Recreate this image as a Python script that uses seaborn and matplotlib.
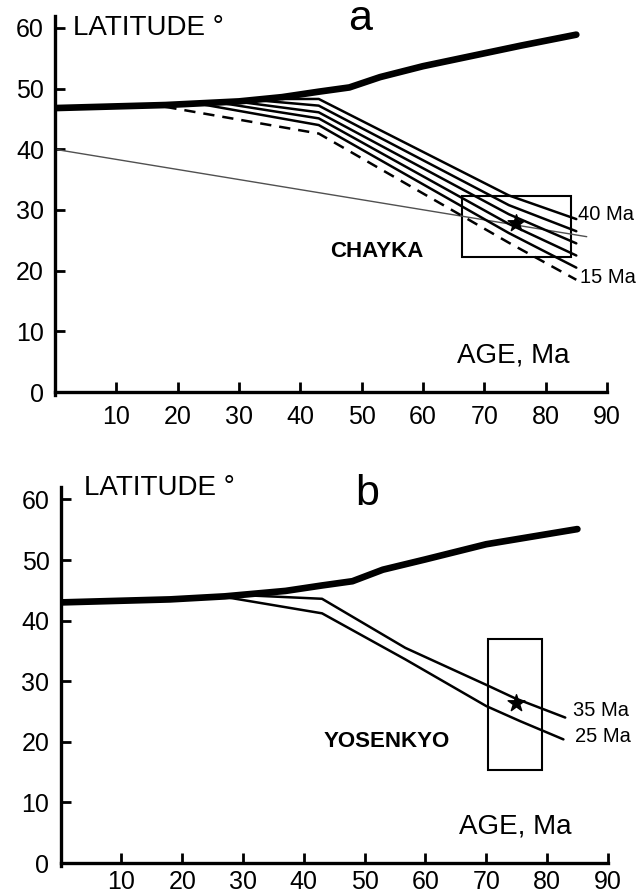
import matplotlib.pyplot as plt
import seaborn as sns
import pandas as pd
from matplotlib.patches import Rectangle

# ---- panel a (CHAYKA) ----
a_thick_age = [0, 18, 30, 37, 43, 48, 53, 60, 68, 76, 85]
a_thick_lat = [46.8, 47.3, 47.9, 48.6, 49.5, 50.2, 51.9, 53.7, 55.4, 57.1, 58.9]

a_ages = [15, 20, 25, 30, 35, 40]
a_branch_age = [18, 24.5, 28, 31, 34, 37]
a_knee_lat = [42.6, 44.0, 45.1, 46.1, 47.2, 48.3]
a_mid_lat = [24.6, 26.2, 27.7, 29.3, 30.8, 32.4]
a_end_lat = [18.5, 20.5, 22.5, 24.5, 26.5, 28.5]
a_knee_age, a_mid_age, a_end_age = 43, 74, 85

a_site_age = [0, 86.7]
a_site_lat = [40.0, 25.6]
a_star = (75.2, 27.8)
a_box = [66.4, 84.1, 22.2, 32.3]   # age min, age max, lat min, lat max

# ---- panel b (YOSENKYO) ----
b_thick_age = [0, 18, 27, 37, 43, 48, 53, 60, 70, 85]
b_thick_lat = [43.0, 43.5, 44.0, 44.9, 45.8, 46.5, 48.4, 50.1, 52.6, 55.1]

b_35_age = [30, 43, 56.7, 70, 74.7, 83]
b_35_lat = [44.2, 43.6, 35.5, 29.4, 27.2, 24.0]
b_25_age = [27, 43, 56.7, 70, 75.6, 82.7]
b_25_lat = [43.9, 41.2, 33.6, 25.9, 23.4, 20.4]
b_star = (74.9, 26.4)
b_box = [70.3, 79.1, 15.4, 36.9]

xticks = [10, 20, 30, 40, 50, 60, 70, 80, 90]
yticks = [0, 10, 20, 30, 40, 50, 60]

sns.set_theme(style="ticks")
plt.rcParams['font.family'] = ['Liberation Sans', 'DejaVu Sans']
plt.rcParams['text.color'] = 'black'
plt.rcParams['xtick.color'] = 'black'
plt.rcParams['ytick.color'] = 'black'

fig = plt.figure(figsize=(6.41, 8.96), dpi=100)
ax_a = fig.add_axes([55 / 641, 504 / 896, 92 * 6.133 / 641, 63 * 6.067 / 896])
ax_b = fig.add_axes([60.6 / 641, 33 / 896, 92 * 6.08 / 641, 63 * 6.06 / 896])


def setup(ax, xpad):
    ax.set_xlim(0, 92)
    ax.set_ylim(0, 63)
    ax.patch.set_alpha(0)
    for s in ['top', 'right']:
        ax.spines[s].set_visible(False)
    for s in ['left', 'bottom']:
        ax.spines[s].set_linewidth(2.4)
        ax.spines[s].set_color('black')
    ax.spines['left'].set_bounds(-0.5, 62)
    ax.spines['bottom'].set_bounds(0, 90)
    ax.set_xticks(xticks)
    ax.set_yticks(yticks)
    ax.tick_params(direction='in', length=7, width=2, color='black',
                   labelsize=18, labelcolor='black')
    ax.tick_params(axis='x', pad=xpad)
    ax.tick_params(axis='y', pad=8)
    ax.set_xlabel('')
    ax.set_ylabel('')
    ax.text(65.5, 6.0, 'AGE, Ma', fontsize=20, va='center')


def line(ax, x, y, lw=1.8, color='black', **kw):
    sns.lineplot(x=x, y=y, ax=ax, color=color, lw=lw, sort=False,
                 estimator=None, legend=False, **kw)


# panel a
line(ax_a, a_thick_age, a_thick_lat, lw=4.8, solid_capstyle='round')
line(ax_a, a_site_age, a_site_lat, lw=1.0, color='#505050')
thick_a = pd.Series(a_thick_lat, index=a_thick_age)
for i, age in enumerate(a_ages):
    bx = a_branch_age[i]
    by = thick_a.reindex(sorted(set(a_thick_age) | {bx})).interpolate('index')[bx]
    xs = [bx, a_knee_age, a_mid_age, a_end_age]
    ys = [by - 0.3, a_knee_lat[i], a_mid_lat[i], a_end_lat[i]]
    if age == 15:
        line(ax_a, xs, ys, linestyle=(0, (4.5, 3.2)))
    else:
        line(ax_a, xs, ys)
ax_a.add_patch(Rectangle((a_box[0], a_box[2]), a_box[1] - a_box[0], a_box[3] - a_box[2],
                         fill=False, lw=1.5, ec='black'))
sns.scatterplot(x=[a_star[0]], y=[a_star[1]], ax=ax_a, marker='*', s=160,
                color='black', edgecolor='black', zorder=5)
setup(ax_a, 9)
ax_a.text(2.9, 60, 'LATITUDE °', fontsize=20, va='center')
ax_a.text(49.7, 59.6, 'a', fontsize=31, ha='center', va='baseline')
ax_a.text(44.8, 23.1, 'CHAYKA', fontsize=16, fontweight='bold', va='center')
ax_a.text(85.3, 29.3, '40 Ma', fontsize=14.5, va='center', clip_on=False)
ax_a.text(85.6, 18.9, '15 Ma', fontsize=14.5, va='center', clip_on=False)

# panel b
line(ax_b, b_thick_age, b_thick_lat, lw=4.8, solid_capstyle='round')
line(ax_b, b_35_age, b_35_lat)
line(ax_b, b_25_age, b_25_lat)
ax_b.add_patch(Rectangle((b_box[0], b_box[2]), b_box[1] - b_box[0], b_box[3] - b_box[2],
                         fill=False, lw=1.5, ec='black'))
sns.scatterplot(x=[b_star[0]], y=[b_star[1]], ax=ax_b, marker='*', s=160,
                color='black', edgecolor='black', zorder=5)
setup(ax_b, 5)
ax_b.text(3.85, 61.8, 'LATITUDE °', fontsize=20, va='center')
ax_b.text(50.4, 59.0, 'b', fontsize=31, ha='center', va='baseline')
ax_b.text(43.3, 20.0, 'YOSENKYO', fontsize=16, fontweight='bold', va='center')
ax_b.text(84.2, 25.2, '35 Ma', fontsize=14.5, va='center', clip_on=False)
ax_b.text(84.6, 20.8, '25 Ma', fontsize=14.5, va='center', clip_on=False)

fig.savefig('out.png', dpi=100)
